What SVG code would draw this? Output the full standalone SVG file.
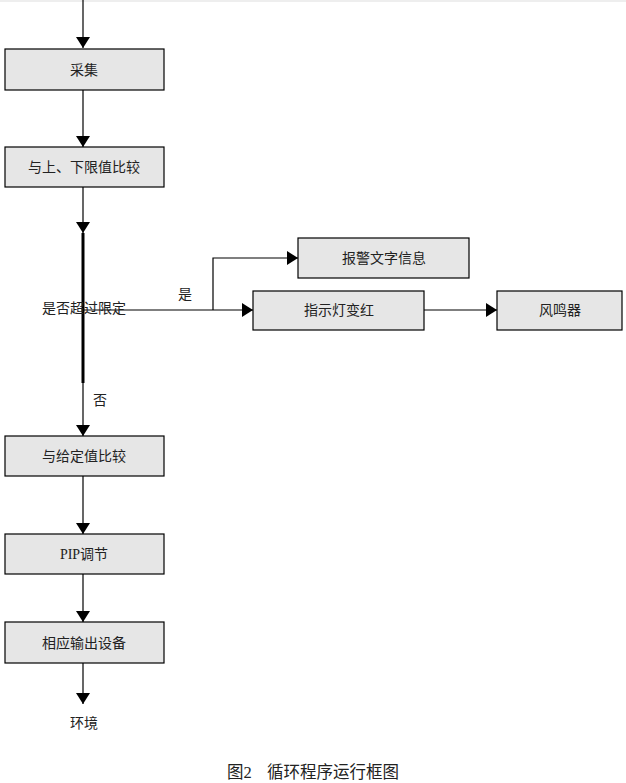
<svg xmlns="http://www.w3.org/2000/svg" width="626" height="783" viewBox="0 0 626 783">
<style>
.box{fill:#e6e6e6;stroke:#000;stroke-width:1.2}
.ln{stroke:#000;stroke-width:1.2;fill:none}
.t{font-family:"Liberation Serif","Noto Sans CJK SC",serif;font-size:14px;fill:#222;text-anchor:middle;dominant-baseline:central}
.cap{font-family:"Liberation Serif","Noto Sans CJK SC",serif;font-size:16.5px;fill:#222;dominant-baseline:central}
</style>
<defs>
<marker id="ah" markerUnits="userSpaceOnUse" markerWidth="14" markerHeight="14" viewBox="0 0 14 14" refX="11" refY="7" orient="auto">
<path d="M0,0 L11,7 L0,14 Z" fill="#000"/>
</marker>
</defs>
<rect x="0" y="0" width="626" height="2" fill="#eeeeee"/>
<g id="connectors">
<line class="ln" x1="83" y1="0" x2="83" y2="48" marker-end="url(#ah)"/>
<line class="ln" x1="83" y1="90" x2="83" y2="147" marker-end="url(#ah)"/>
<line class="ln" x1="83" y1="187" x2="83" y2="233" marker-end="url(#ah)"/>
<line x1="83" y1="233" x2="83" y2="383" stroke="#000" stroke-width="3"/>
<line class="ln" x1="83" y1="383" x2="83" y2="436" marker-end="url(#ah)"/>
<line class="ln" x1="83" y1="310" x2="253" y2="310" marker-end="url(#ah)"/>
<polyline class="ln" points="213,310 213,258 298,258" marker-end="url(#ah)"/>
<line class="ln" x1="424" y1="310" x2="497" y2="310" marker-end="url(#ah)"/>
<line class="ln" x1="83" y1="476" x2="83" y2="534" marker-end="url(#ah)"/>
<line class="ln" x1="83" y1="574" x2="83" y2="622" marker-end="url(#ah)"/>
<line class="ln" x1="83" y1="663" x2="83" y2="704" marker-end="url(#ah)"/>
<text class="t" x="185" y="294">是</text>
<text class="t" x="100" y="400">否</text>
</g>
<g id="n1"><rect class="box" x="5" y="49" width="159" height="41"/><text class="t" x="84" y="70">采集</text></g>
<g id="n2"><rect class="box" x="5" y="147" width="159" height="40"/><text class="t" x="84" y="167">与上、下限值比较</text></g>
<g id="n3"><text class="t" x="84" y="308">是否超过限定</text></g>
<g id="n4"><rect class="box" x="298" y="238" width="171" height="40"/><text class="t" x="384" y="258">报警文字信息</text></g>
<g id="n5"><rect class="box" x="253" y="291" width="171" height="39"/><text class="t" x="339" y="310">指示灯变红</text></g>
<g id="n6"><rect class="box" x="497" y="291" width="125" height="39"/><text class="t" x="560" y="310">风鸣器</text></g>
<g id="n7"><rect class="box" x="5" y="436" width="159" height="40"/><text class="t" x="84" y="456">与给定值比较</text></g>
<g id="n8"><rect class="box" x="5" y="534" width="159" height="40"/><text class="t" x="84" y="554">PIP调节</text></g>
<g id="n9"><rect class="box" x="5" y="622" width="159" height="41"/><text class="t" x="84" y="643">相应输出设备</text></g>
<g id="n10"><text class="t" x="84" y="723">环境</text></g>
<text class="cap" x="227" y="772">图2</text>
<text class="cap" x="267" y="772">循环程序运行框图</text>
</svg>
